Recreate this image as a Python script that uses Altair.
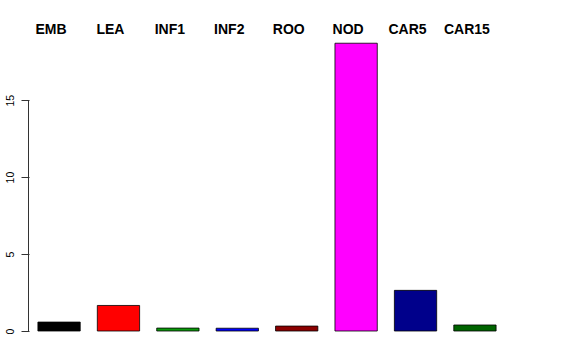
import altair as alt
import pandas as pd

categories = ["EMB", "LEA", "INF1", "INF2", "ROO", "NOD", "CAR5", "CAR15"]
values = [0.58, 1.66, 0.19, 0.18, 0.32, 18.7, 2.64, 0.39]
colors = ["#000000", "#FF0000", "#0A9A0A", "#0000FF", "#8B0000", "#FF00FF", "#00008B", "#006400"]

df = pd.DataFrame({"cat": categories, "val": values, "col": colors})

x_scale = alt.Scale(domain=categories, paddingInner=0.288, paddingOuter=0.15)
y_scale = alt.Scale(domain=[0, 19.3], nice=False, zero=True)

bars = alt.Chart(df).mark_bar(stroke="black", strokeWidth=0.8).encode(
    x=alt.X("cat:N", scale=x_scale, sort=categories,
            axis=alt.Axis(orient="top", title=None, ticks=False, domain=False, grid=False,
                          labelAngle=0, labelFontWeight="bold", labelFontSize=14,
                          labelFont="Liberation Sans", labelColor="black",
                          labelBaseline="alphabetic", labelPadding=0.5, labelOffset=-8)),
    y=alt.Y("val:Q", scale=y_scale,
            axis=alt.Axis(values=[0, 5, 10, 15], title=None, domain=False, grid=False,
                          tickColor="#333333", tickSize=8, tickWidth=1, labelAngle=270,
                          labelFontSize=10.5, labelFont="Liberation Sans", labelColor="black",
                          labelPadding=6)),
    color=alt.Color("col:N", scale=None),
)

axis_line = alt.Chart(df).mark_rule(color="#333333", strokeWidth=1).encode(
    x=alt.value(-0.5),
    y=alt.Y(datum=0, scale=y_scale),
    y2=alt.Y2(datum=15),
)

chart = alt.layer(bars, axis_line).properties(
    width=476, height=297,
    background="white",
    autosize=alt.AutoSizeParams(type="none"),
    padding={"left": 29, "top": 34, "right": 71, "bottom": 29},
).configure_view(stroke=None, strokeWidth=0)

chart.save("out.html", embed_options={"renderer": "svg", "actions": False})
